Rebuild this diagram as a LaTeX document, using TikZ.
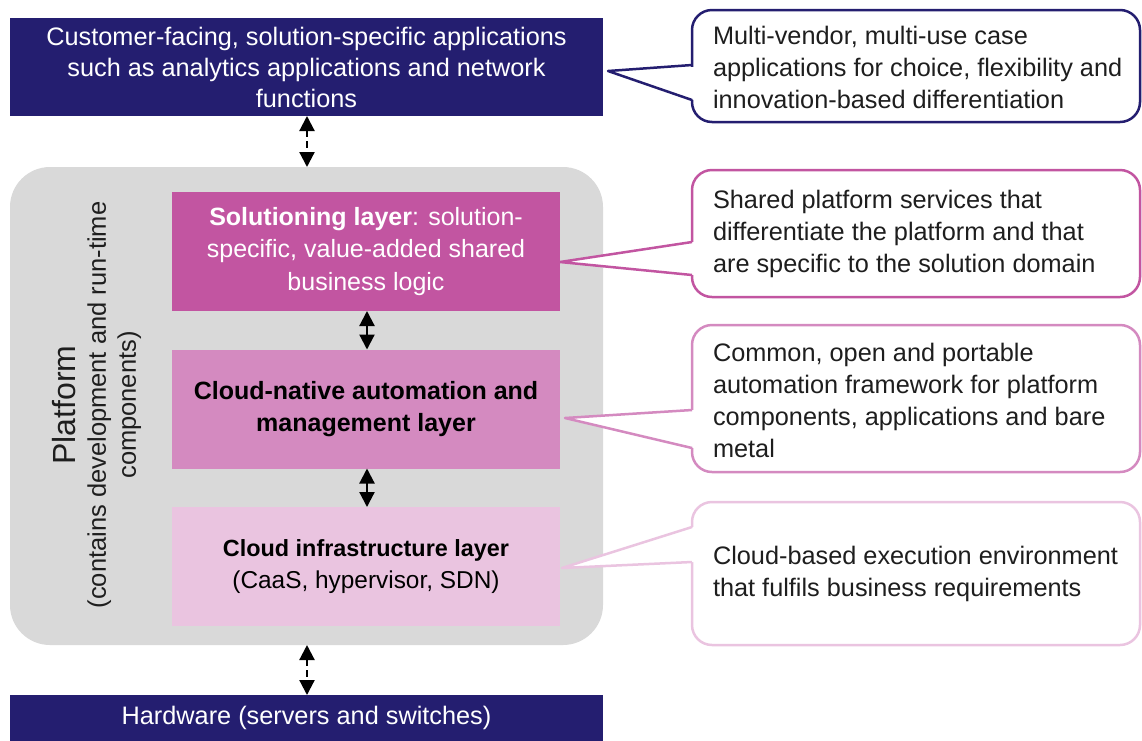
\documentclass[tikz,border=0pt]{standalone}
\usepackage{fontspec}
\setmainfont{Liberation Sans}
\usetikzlibrary{arrows.meta}
\definecolor{navy}{RGB}{36,30,112}
\definecolor{solc}{RGB}{194,85,161}
\definecolor{cnc}{RGB}{212,138,192}
\definecolor{infc}{RGB}{234,196,224}
\definecolor{platg}{RGB}{217,217,217}
\definecolor{txt}{RGB}{30,30,30}
\tikzset{
  x=1pt,y=-1pt,
  every node/.style={inner sep=0pt,outer sep=0pt},
  navybox/.style={fill=navy,text=white,minimum width=593pt,align=center,font=\fontsize{25.3}{31}\selectfont},
  layer/.style={minimum width=388pt,minimum height=119pt,align=center,font=\fontsize{25}{32.5}\selectfont},
  callbox/.style={draw,line width=2.5pt,fill=white,rounded corners=20pt,minimum width=448pt},
  calltext/.style={anchor=west,align=left,text=txt,font=\fontsize{25.3}{32}\selectfont},
  dbl/.style={line width=2.2pt,{Triangle[width=15pt,length=15pt]}-{Triangle[width=15pt,length=15pt]}},
  dsh/.style={dash pattern=on 7pt off 4pt},
}
\begin{document}
\begin{tikzpicture}
\useasboundingbox (0,0) rectangle (1142,740);
% top box
\node[navybox,minimum height=98pt] (top) at (306.5,67) {Customer-facing, solution-specific applications\\such as analytics applications and network\\functions};
% platform
\node[fill=platg,rounded corners=40pt,minimum width=593pt,minimum height=478pt] (plat) at (306.5,406) {};
\node[rotate=90,align=center,text=txt,font=\fontsize{25.5}{30}\selectfont] (platlab) at (97,405)
  {{\fontsize{32}{37}\selectfont Platform}\\(contains development and run-time\\components)};
% layers
\node[layer,fill=solc,text=white] (sol) at (366,251.5) {\textbf{Solutioning layer}: solution-\\specific, value-added shared\\business logic};
\node[layer,fill=cnc,text=black] (cn) at (366,409) {\textbf{Cloud-native automation and}\\\textbf{management layer}};
\node[layer,fill=infc,text=black] (inf) at (366,566.5) {{\fontsize{23.4}{32}\selectfont\textbf{Cloud infrastructure layer}}\\{\fontsize{24.4}{32}\selectfont(CaaS, hypervisor, SDN)}};
% hardware
\node[navybox,minimum height=46pt] (hw) at (306.5,718) {Hardware (servers and switches)};
% arrows
\draw[dbl,dsh] (top.south -| 307,0) -- (plat.north -| 307,0);
\draw[dbl,dsh] (plat.south -| 307,0) -- (hw.north -| 307,0);
\draw[dbl] (sol.south -| 367,0) -- (cn.north -| 367,0);
\draw[dbl] (cn.south -| 367,0) -- (inf.north -| 367,0);
% callout 1
\node[callbox,draw=navy,minimum height=112pt] (c1) at (916,66) {};
\coordinate (t1) at (608,71);
\fill[white] (694,67) -- (t1) -- (694,100) -- cycle;
\draw[navy,line width=2.5pt,line join=round] (c1.west |- 0,65) -- (t1) -- (c1.west |- 0,100);
\node[calltext] (c1t) at (713,67) {Multi-vendor, multi-use case\\applications for choice, flexibility and\\innovation-based differentiation};
% callout 2
\node[callbox,draw=solc,minimum height=127pt] (c2) at (916,233.5) {};
\coordinate (t2) at (560,262);
\fill[white] (694,242) -- (t2) -- (694,275) -- cycle;
\draw[solc,line width=2.5pt,line join=round] (c2.west |- 0,242) -- (t2) -- (c2.west |- 0,275);
\node[calltext] (c2t) at (713,234) {Shared platform services that\\differentiate the platform and that\\are specific to the solution domain};
% callout 3
\node[callbox,draw=cnc,minimum height=147pt] (c3) at (916,398.5) {};
\coordinate (t3) at (565,418);
\fill[white] (694,410) -- (t3) -- (694,448) -- cycle;
\draw[cnc,line width=2.5pt,line join=round] (c3.west |- 0,410) -- (t3) -- (c3.west |- 0,448);
\node[calltext] (c3t) at (713,400) {Common, open and portable\\automation framework for platform\\components, applications and bare\\metal};
% callout 4
\node[callbox,draw=infc,minimum height=143pt] (c4) at (916,573.5) {};
\coordinate (t4) at (562,568);
\fill[white] (694,527) -- (t4) -- (694,562) -- cycle;
\draw[infc,line width=2.5pt,line join=round] (c4.west |- 0,527) -- (t4) -- (c4.west |- 0,562);
\node[calltext] (c4t) at (713,574) {Cloud-based execution environment\\that fulfils business requirements};
\end{tikzpicture}
\end{document}
